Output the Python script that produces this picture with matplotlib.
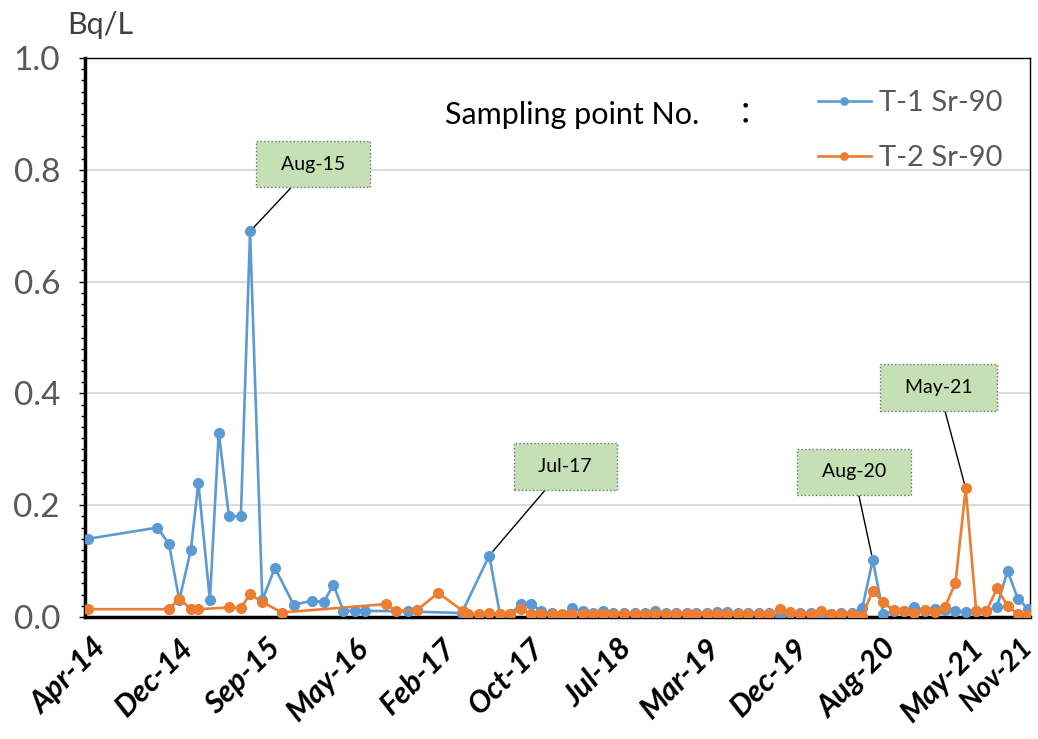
import matplotlib
matplotlib.use('Agg')
import matplotlib.pyplot as plt
import matplotlib.dates as mdates
from matplotlib.ticker import MultipleLocator, FormatStrFormatter
from matplotlib.transforms import ScaledTranslation
import pandas as pd

plt.rcParams['font.family'] = ['Lato', 'Noto Sans CJK JP', 'DejaVu Sans']

# irregular early samples
t1_dates_early = ['2014-04-24', '2014-11-13', '2014-12-17', '2015-01-16', '2015-02-19',
                  '2015-03-13', '2015-04-16', '2015-05-12', '2015-06-11', '2015-07-16',
                  '2015-08-12', '2015-09-17', '2015-10-24', '2015-12-18', '2016-02-11',
                  '2016-03-16', '2016-04-13', '2016-05-12', '2016-06-15', '2016-07-15',
                  '2016-11-17', '2017-04-25']
t1_vals_early = [0.14, 0.16, 0.13, 0.03, 0.12, 0.24, 0.03, 0.33, 0.18, 0.18,
                 0.69, 0.03, 0.088, 0.022, 0.029, 0.027, 0.058, 0.011, 0.011, 0.011,
                 0.010, 0.007]

t2_dates_early = ['2014-04-24', '2014-12-17', '2015-01-16', '2015-02-19', '2015-03-13',
                  '2015-06-11', '2015-07-16', '2015-08-12', '2015-09-17', '2015-11-13',
                  '2016-09-14', '2016-10-13', '2016-12-14', '2017-02-15', '2017-04-28',
                  '2017-05-13', '2017-06-15']
t2_vals_early = [0.014, 0.014, 0.033, 0.014, 0.014, 0.017, 0.016, 0.041, 0.027, 0.008,
                 0.023, 0.011, 0.012, 0.043, 0.011, 0.005, 0.005]

# monthly samples from Jul-17
sample_months = ['2017-07', '2017-08', '2017-09', '2017-10', '2017-11', '2017-12',
                 '2018-01', '2018-02', '2018-03', '2018-04', '2018-05', '2018-06',
                 '2018-07', '2018-08', '2018-09', '2018-10', '2018-11', '2018-12',
                 '2019-01', '2019-02', '2019-03', '2019-04', '2019-05', '2019-06',
                 '2019-07', '2019-08', '2019-09', '2019-10', '2019-11', '2019-12',
                 '2020-01', '2020-02', '2020-03', '2020-04', '2020-05', '2020-06',
                 '2020-07', '2020-08', '2020-09', '2020-10', '2020-11', '2020-12',
                 '2021-01', '2021-02', '2021-03', '2021-04', '2021-05', '2021-06',
                 '2021-07', '2021-08', '2021-09', '2021-10', '2021-11']
t1_monthly = [0.11, 0.006, 0.005, 0.023, 0.024, 0.010, 0.007, 0.001, 0.016, 0.010,
              0.007, 0.011, 0.007, 0.007, 0.007, 0.007, 0.011, 0.007, 0.007,
              0.007, 0.007, 0.007, 0.009, 0.009, 0.007, 0.008, 0.007, 0.007, 0.002,
              0.008, 0.007, 0.007, 0.002, 0.005, 0.007, 0.007,
              0.016, 0.102, 0.005, 0.010, 0.011, 0.018, 0.011, 0.014, 0.012, 0.010,
              0.009, 0.010, 0.011, 0.018, 0.083, 0.033, 0.014]
t2_monthly = [0.008, 0.005, 0.005, 0.014, 0.005, 0.005, 0.005, 0.005, 0.006, 0.005,
              0.005, 0.005, 0.005, 0.005, 0.005, 0.005, 0.006, 0.005, 0.005,
              0.005, 0.005, 0.005, 0.005, 0.005, 0.005, 0.005, 0.005, 0.005, 0.014,
              0.009, 0.006, 0.005, 0.010, 0.006, 0.005, 0.005,
              0.002, 0.047, 0.026, 0.012, 0.010, 0.007, 0.012, 0.009, 0.018, 0.061,
              0.23, 0.010, 0.011, 0.051, 0.020, 0.005, 0.004]

series_names = ['T-1 Sr-90', 'T-2 Sr-90']
series_colors = ['#5b9bd5', '#ed7d31']
callouts = [('Aug-15', 0, '2015-08'), ('Jul-17', 0, '2017-07'),
            ('Aug-20', 0, '2020-08'), ('May-21', 1, '2021-05')]
callout_offsets = [(63, 67), (76, 89), (-19, 88), (-27, 101)]

monthly_dates = pd.to_datetime(sample_months) + pd.Timedelta(days=14)
t1 = pd.Series(t1_vals_early + t1_monthly,
               index=list(pd.to_datetime(t1_dates_early)) + list(monthly_dates))
t2 = pd.Series(t2_vals_early + t2_monthly,
               index=list(pd.to_datetime(t2_dates_early)) + list(monthly_dates))
series = [t1, t2]

fig = plt.figure(figsize=(10.38, 7.39), dpi=100)
ax = fig.add_axes([0.0819, 0.1651, 0.9104, 0.7564])

for s, name, c in zip(series, series_names, series_colors):
    ax.plot(s.index, s.values, color=c, lw=1.9, marker='o', ms=7, label=name, zorder=3)

x0 = pd.Timestamp('2014-04-14')
x1 = pd.Timestamp('2021-11-20')
ax.set_xlim(x0, x1)
ax.set_ylim(0, 1.0)

ticks = [x0 + pd.Timedelta(days=258 * k) for k in range(11)] + [x1]
ax.set_xticks(ticks)
ax.xaxis.set_major_formatter(mdates.DateFormatter('%b-%y'))
ax.tick_params(axis='x', length=0, pad=12)
labels = ax.get_xticklabels()
for i, lab in enumerate(labels):
    lab.set_rotation(45)
    lab.set_ha('right')
    lab.set_va('top')
    lab.set_rotation_mode('anchor')
    lab.set_fontsize(22)
    lab.set_fontweight('bold')
    lab.set_fontstyle('italic')
    # keep the last label inside the picture
    if i == len(labels) - 1:
        lab.set_fontsize(20)
        dx, dy = -10, 0
    else:
        dx, dy = 6, 0
    lab.set_transform(lab.get_transform() +
                      ScaledTranslation(dx / 100, dy / 100, fig.dpi_scale_trans))

ax.yaxis.set_major_locator(MultipleLocator(0.2))
ax.yaxis.set_minor_locator(MultipleLocator(0.02))
ax.yaxis.set_major_formatter(FormatStrFormatter('%.1f'))
ax.tick_params(axis='y', which='major', length=4, width=1, labelsize=24,
               labelcolor='#595959', pad=14)
ax.tick_params(axis='y', which='minor', length=3, width=1)

ax.grid(axis='y', color='#d9d9d9', lw=1.3, zorder=0)
ax.set_axisbelow(True)
for side in ['left', 'bottom']:
    ax.spines[side].set_linewidth(2.5)
for side in ['top', 'right']:
    ax.spines[side].set_linewidth(1)

leg = ax.legend(loc='upper left', bbox_to_anchor=(0.748, 0.99), frameon=False,
                fontsize=21, labelcolor='#595959', handlelength=1.8,
                handletextpad=0.3, labelspacing=1.0, markerscale=0.75)

ax.text(0.381, 0.898, 'Sampling point No.    ：', transform=ax.transAxes,
        fontsize=22, color='black', va='center', ha='left')
fig.text(0.0645, 0.966, 'Bq/L', fontsize=22, color='#404040', va='center', ha='left')

for (label, si, month), off in zip(callouts, callout_offsets):
    s = series[si]
    d = pd.Timestamp(month + '-01')
    key = s.index[(s.index.year == d.year) & (s.index.month == d.month)][0]
    ax.annotate('  ' + label + '  ', xy=(key, s[key]), xytext=off,
                textcoords='offset pixels', ha='center', va='center',
                fontsize=14, color='black',
                bbox=dict(boxstyle='square,pad=0.75', fc='#c5e0b4', ec='#6f6f6f',
                          ls=':', lw=1),
                arrowprops=dict(arrowstyle='-', color='black', lw=1,
                                shrinkA=0, shrinkB=4),
                zorder=5)

fig.savefig('out.png', dpi=100)
